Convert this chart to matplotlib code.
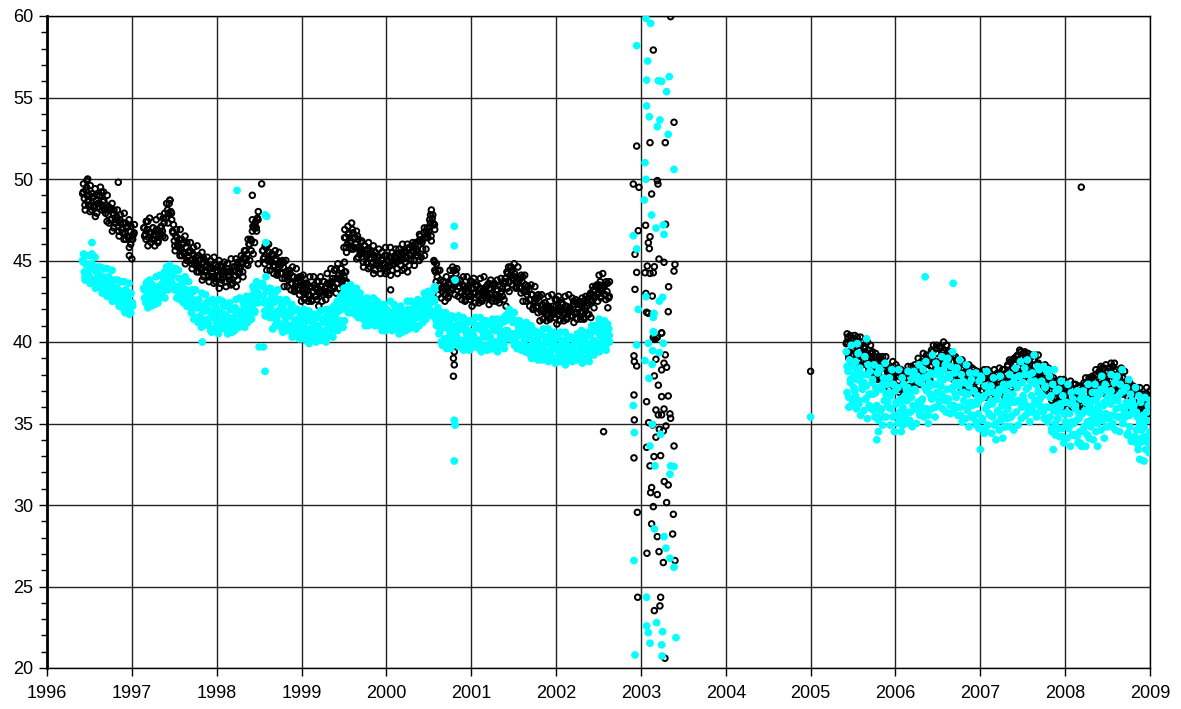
import numpy as np
import matplotlib
matplotlib.use("Agg")
import matplotlib.pyplot as plt
from matplotlib.ticker import MultipleLocator

plt.rcParams['font.family'] = ['Liberation Sans', 'DejaVu Sans']

# ---------------- black series (open circles), regular measurement runs -------------
black_spans = [(1996.42, 1997.02), (1997.14, 1997.46), (1997.48, 1998.48),
               (1998.54, 1999.52), (1999.50, 2000.56), (2000.56, 2002.62),
               (2005.42, 2009.00)]
black_run1 = [49.1, 48.8, 49.3, 48.6, 49.0, 48.4, 48.9, 48.3, 48.7, 48.5, 49.0, 49.2, 48.6, 48.1,
              48.4, 47.8, 48.2, 47.5, 47.9, 47.3, 47.7, 47.1, 47.5, 46.9, 47.3, 46.7, 47.0, 46.4,
              46.8, 46.3, 46.6]
black_run2 = [47.0, 46.6, 46.9, 46.4, 46.7, 46.3, 46.6, 46.5, 46.8, 46.6, 47.0, 46.8, 47.3, 47.6,
              48.1, 48.5, 48.0]
black_run3 = [46.8, 46.2, 46.5, 45.9, 46.3, 45.7, 46.0, 45.4, 45.8, 45.2, 45.6, 45.0, 45.4, 44.8,
              45.2, 44.6, 45.0, 44.4, 44.9, 44.3, 44.7, 44.1, 44.6, 44.0, 44.5, 43.9, 44.4, 44.0,
              44.6, 43.8, 44.3, 43.7, 44.5, 44.0, 44.3, 43.6, 44.4, 44.1, 44.7, 44.2, 44.6, 44.9,
              45.2, 45.6, 45.4, 46.0, 46.3, 46.8, 47.0, 47.4, 47.6]
black_run4 = [45.6, 45.2, 45.8, 45.0, 45.5, 44.9, 45.3, 44.7, 45.1, 44.5, 44.9, 44.2, 44.6, 43.9,
              44.3, 43.8, 44.2, 43.6, 44.0, 43.4, 43.9, 43.3, 43.7, 43.1, 43.6, 43.0, 43.5, 42.9,
              43.4, 43.1, 43.5, 42.8, 43.3, 43.0, 43.4, 42.9, 43.3, 43.1, 43.6, 43.2, 43.7, 43.4,
              43.9, 43.6, 44.1, 43.8, 44.2, 44.0, 44.3]
black_run5 = [45.8, 46.4, 46.0, 46.7, 46.2, 46.9, 46.4, 46.0, 46.5, 45.8, 46.1, 45.5, 45.9, 45.3,
              45.7, 45.1, 45.5, 44.9, 45.3, 44.8, 45.2, 44.7, 45.1, 44.8, 45.3, 44.6, 45.0, 44.7,
              45.2, 44.8, 45.3, 44.9, 45.4, 45.0, 45.5, 45.1, 45.6, 45.2, 45.7, 45.3, 45.9, 45.5,
              46.0, 45.7, 46.2, 46.5, 46.1, 46.7, 46.4, 47.0, 46.8, 47.3, 47.6, 47.2]
black_run6 = [45.0, 44.3, 44.0, 43.5, 43.8, 43.1, 43.4, 42.9, 43.3, 43.6, 43.2, 43.9, 43.5, 44.2,
              43.7, 43.4, 43.0, 43.5, 42.9, 43.3, 43.1, 43.5, 42.8, 43.3, 43.0, 43.4, 42.9, 43.3,
              42.7, 43.2, 43.0, 43.4, 42.8, 43.3, 43.0, 43.5, 42.9, 43.2, 42.8, 43.4, 43.1, 43.6,
              43.9, 44.3, 44.6, 44.1, 44.4, 43.8, 44.0, 43.6, 43.9, 43.4, 43.7, 43.1, 43.5, 42.9,
              43.2, 42.6, 42.9, 42.4, 42.7, 42.2, 42.5, 41.9, 42.3, 41.8, 42.2, 41.7, 42.1, 41.6,
              42.0, 41.8, 42.2, 41.7, 42.1, 41.9, 42.3, 41.8, 42.2, 41.7, 42.1, 41.9, 42.3, 41.8,
              42.4, 42.0, 42.3, 41.9, 42.5, 42.1, 42.6, 42.4, 42.9, 42.6, 43.2, 42.8, 43.5, 43.0,
              43.7, 43.2, 43.4, 42.9, 43.1, 42.7]
black_run7 = [39.9, 40.3, 39.4, 40.1, 39.6, 40.4, 39.3, 39.9, 39.5, 40.0, 39.1, 39.7, 38.9, 39.5,
              38.7, 39.3, 38.6, 39.1, 38.4, 38.9, 38.3, 38.8, 38.1, 38.6, 37.9, 38.4, 37.8, 38.2,
              37.5, 38.1, 37.3, 37.9, 37.2, 38.0, 37.4, 38.1, 37.1, 37.8, 37.3, 38.2, 37.5, 38.0,
              37.6, 38.4, 37.9, 38.6, 38.0, 38.9, 38.3, 39.2, 38.5, 39.4, 38.7, 39.6, 39.0, 39.7,
              38.8, 39.5, 39.0, 39.8, 38.7, 39.4, 38.5, 39.1, 38.3, 38.9, 38.0, 38.6, 37.6, 38.3,
              37.4, 38.2, 37.2, 37.9, 37.5, 38.1, 37.1, 37.8, 37.3, 38.0, 37.0, 37.7, 37.2, 38.0,
              37.1, 37.8, 36.9, 37.6, 37.3, 38.0, 37.2, 37.9, 37.5, 38.3, 37.6, 38.5, 37.8, 38.8,
              38.1, 39.0, 38.3, 39.2, 38.5, 39.4, 38.7, 39.3, 38.4, 39.1, 38.6, 39.2, 38.2, 38.9,
              37.9, 38.6, 37.8, 38.4, 37.5, 38.1, 37.2, 37.9, 37.0, 37.7, 36.8, 37.5, 36.9, 37.4,
              36.6, 37.3, 36.8, 37.2, 36.4, 37.1, 36.6, 37.2, 36.3, 36.9, 36.5, 37.2, 36.2, 37.0,
              36.6, 37.4, 36.8, 37.6, 37.0, 37.8, 37.1, 38.0, 37.4, 38.2, 37.6, 38.4, 37.7, 38.6,
              37.9, 38.4, 37.6, 38.5, 37.8, 38.3, 37.4, 38.0, 37.1, 37.8, 36.9, 37.5, 36.6, 37.2,
              36.4, 37.0, 36.3, 36.9, 36.1, 36.8, 36.0, 36.6, 35.9, 36.8, 36.2, 36.7]

# second and third sets of readings in the same periods (fill the daily band)
black_spans_b = [(1996.43, 1997.03), (1997.15, 1997.47), (1997.49, 1998.49),
                 (1998.55, 1999.53), (1999.51, 2000.57), (2000.57, 2002.63),
                 (2005.43, 2009.00)]
black_run1_b = [49.7, 48.1, 49.0, 48.4, 49.6, 48.1, 48.9, 47.7, 49.0, 48.3, 49.5, 48.1, 48.7, 47.9,
                49.0, 47.3, 48.1, 46.8, 48.1, 47.3, 48.1, 46.5, 47.3, 46.7, 47.9, 46.3, 47.1, 45.8,
                47.1, 46.3, 47.2]
black_run2_b = [46.5, 47.4, 45.9, 47.6, 46.7, 47.0, 45.9, 46.9, 46.2, 47.7, 46.6, 47.6, 46.4, 48.5,
                47.9, 48.7, 47.5]
black_run3_b = [47.2, 45.6, 46.4, 45.8, 46.9, 45.3, 46.1, 44.8, 46.1, 45.3, 46.1, 44.5, 45.3, 44.7,
                45.9, 44.3, 45.1, 43.8, 45.1, 44.4, 45.2, 43.7, 44.5, 44.0, 45.2, 43.7, 44.6, 43.3,
                44.7, 44.0, 44.9, 43.4, 44.3, 43.8, 45.1, 43.6, 44.6, 43.4, 44.9, 44.3, 45.3, 44.0,
                45.1, 44.8, 46.3, 45.0, 46.2, 45.4, 47.2, 46.8, 48.0]
black_run4_b = [45.1, 45.9, 44.4, 46.0, 45.0, 45.4, 44.2, 45.0, 44.2, 45.5, 44.2, 45.0, 43.4, 45.0,
                44.0, 44.4, 43.2, 44.0, 43.2, 44.5, 43.2, 44.0, 42.5, 44.1, 43.2, 43.6, 42.5, 43.4,
                42.6, 44.0, 42.8, 43.7, 42.2, 44.0, 43.1, 43.7, 42.6, 43.6, 43.0, 44.5, 43.4, 44.4,
                43.0, 44.8, 43.9, 44.5, 43.4, 44.3, 43.7]
black_run5_b = [46.9, 45.5, 46.6, 46.1, 47.3, 45.7, 46.4, 45.1, 46.3, 45.4, 46.2, 44.6, 45.4, 44.9,
                46.1, 44.6, 45.4, 44.2, 45.5, 44.8, 45.7, 44.2, 45.0, 44.5, 45.8, 44.3, 45.2, 44.1,
                45.5, 44.8, 45.7, 44.2, 45.2, 44.7, 46.0, 44.5, 45.5, 44.3, 45.8, 45.1, 46.1, 44.7,
                45.6, 45.3, 46.6, 45.2, 46.3, 45.3, 46.8, 46.4, 47.5, 46.2, 47.3, 46.9]
black_run6_b = [44.4, 44.8, 42.9, 44.4, 43.3, 43.7, 42.5, 43.4, 42.8, 44.4, 43.3, 44.4, 42.9, 44.5,
                43.4, 43.8, 42.6, 43.4, 42.6, 44.0, 42.8, 43.7, 42.2, 43.9, 43.0, 43.5, 42.4, 43.3,
                42.6, 44.0, 42.9, 43.5, 42.3, 43.8, 42.7, 43.6, 42.5, 43.2, 42.4, 43.9, 42.8, 43.7,
                42.2, 44.2, 43.7, 44.6, 43.5, 44.2, 43.4, 44.6, 43.3, 44.1, 42.5, 44.1, 43.1, 43.4,
                42.2, 42.9, 42.1, 43.4, 42.1, 42.9, 41.3, 42.9, 42.0, 42.4, 41.3, 42.2, 41.5, 42.9,
                41.7, 42.6, 41.1, 42.8, 41.9, 42.4, 41.3, 42.2, 41.5, 42.9, 41.6, 42.7, 41.2, 42.6,
                41.8, 42.5, 41.4, 42.3, 41.4, 42.8, 41.7, 42.8, 41.5, 43.4, 42.7, 43.4, 42.5, 43.5,
                42.8, 44.2, 42.9, 43.7, 42.1, 43.7]
black_run7_b = [40.5, 39.0, 39.9, 38.8, 40.2, 39.0, 40.3, 38.6, 39.8, 39.3, 39.6, 38.7, 40.0, 38.4,
                39.1, 39.4, 37.9, 38.8, 37.7, 39.1, 37.8, 39.1, 37.4, 38.6, 38.1, 38.4, 37.5, 38.8,
                37.2, 37.9, 38.4, 36.9, 37.8, 36.7, 38.1, 37.2, 38.5, 36.8, 38.0, 37.5, 38.6, 37.7,
                39.0, 37.4, 38.1, 39.3, 37.8, 38.7, 37.6, 39.0, 38.5, 39.8, 38.1, 39.3, 38.8, 39.6,
                38.7, 40.0, 38.4, 39.1, 39.4, 37.9, 38.8, 37.7, 39.1, 37.6, 38.9, 37.2, 38.4, 37.9,
                38.2, 37.3, 38.6, 37.0, 37.7, 38.3, 36.8, 37.7, 36.6, 38.0, 37.0, 38.3, 36.6, 37.8,
                37.3, 37.9, 37.0, 38.3, 36.7, 37.4, 38.4, 36.9, 37.8, 36.7, 38.1, 37.6, 38.9, 37.2,
                38.4, 37.9, 39.1, 38.2, 39.5, 37.9, 38.6, 39.4, 37.9, 38.8, 37.7, 39.1, 37.9, 39.2,
                37.5, 38.7, 38.2, 38.2, 37.3, 38.6, 37.0, 37.7, 37.9, 36.4, 37.3, 36.2, 37.6, 36.4,
                37.7, 36.0, 37.2, 36.7, 37.2, 36.3, 37.6, 36.0, 36.7, 37.4, 35.9, 36.8, 35.7, 37.1,
                36.5, 37.8, 36.1, 37.3, 36.8, 37.9, 37.0, 38.3, 36.7, 37.4, 38.5, 37.0, 37.9, 36.8,
                38.2, 37.4, 38.7, 37.0, 38.2, 37.7, 38.0, 37.1, 38.4, 36.8, 37.5, 37.6, 36.1, 37.0,
                35.9, 37.3, 35.9, 37.2, 35.5, 36.7, 36.2, 36.8, 35.9, 37.2, 35.6, 36.3]

black_spans_c = [(1996.427, 1997.027), (1997.147, 1997.467), (1997.487, 1998.487),
                 (1998.547, 1999.527), (1999.507, 2000.567), (2000.567, 2002.627),
                 (2005.427, 2009.00)]
black_run1_c = [49.2, 48.4, 49.5, 48.7, 48.0, 49.1, 48.3, 49.4, 47.9, 48.5, 49.0, 48.4, 49.2, 48.2,
                47.4, 48.3, 47.5, 48.5, 47.0, 47.5, 47.6, 46.8, 47.8, 47.0, 46.3, 47.3, 46.5, 47.5,
                46.0, 46.5, 46.7]
black_run2_c = [47.0, 46.3, 47.4, 46.7, 46.1, 47.0, 46.3, 47.5, 46.1, 46.8, 47.1, 46.5, 47.9, 47.6,
                47.3, 48.7, 47.9]
black_run3_c = [46.7, 45.9, 46.9, 46.1, 45.3, 46.3, 45.5, 46.5, 45.0, 45.5, 45.6, 44.8, 45.8, 45.0,
                44.3, 45.3, 44.5, 45.5, 44.0, 44.6, 44.7, 44.0, 45.0, 44.3, 43.6, 44.7, 44.0, 45.0,
                43.6, 44.2, 44.4, 43.7, 44.8, 44.1, 43.5, 44.6, 44.0, 45.1, 43.8, 44.5, 44.8, 44.3,
                45.6, 45.1, 44.7, 46.0, 45.6, 47.1, 46.1, 47.0, 47.5]
black_run4_c = [45.6, 44.8, 45.9, 45.1, 44.4, 45.4, 44.6, 45.6, 44.1, 44.6, 44.7, 43.9, 44.9, 44.1,
                43.4, 44.4, 43.6, 44.6, 43.1, 43.6, 43.7, 42.9, 44.0, 43.2, 42.6, 43.6, 42.9, 44.0,
                42.5, 43.1, 43.3, 42.6, 43.7, 43.1, 42.5, 43.7, 43.0, 44.2, 42.9, 43.6, 43.9, 43.3,
                44.5, 43.9, 43.3, 44.5, 43.8, 44.9, 43.6]
black_run5_c = [46.4, 45.8, 47.1, 46.4, 45.7, 46.7, 45.8, 46.8, 45.2, 45.6, 45.7, 44.9, 45.9, 45.2,
                44.5, 45.6, 44.8, 45.9, 44.4, 45.0, 45.2, 44.5, 45.5, 44.8, 44.2, 45.3, 44.6, 45.8,
                44.4, 45.0, 45.2, 44.5, 45.7, 45.0, 44.4, 45.5, 44.9, 46.0, 44.7, 45.3, 45.6, 45.0,
                46.1, 45.5, 45.0, 46.2, 45.7, 47.0, 45.7, 46.6, 47.0, 46.5, 47.8, 47.2]
black_run6_c = [44.9, 43.7, 44.4, 43.5, 42.7, 43.7, 42.9, 44.0, 42.7, 43.5, 43.8, 43.3, 44.4, 43.6,
                42.8, 43.8, 43.0, 44.0, 42.5, 43.1, 43.3, 42.6, 43.7, 43.0, 42.4, 43.5, 42.8, 43.9,
                42.5, 43.1, 43.2, 42.7, 43.6, 42.9, 42.5, 43.4, 42.9, 43.8, 42.6, 43.0, 43.3, 42.6,
                43.7, 43.3, 43.1, 44.6, 43.9, 44.8, 43.3, 43.7, 43.8, 43.0, 44.0, 43.2, 42.5, 43.4,
                42.6, 43.5, 42.0, 42.5, 42.6, 41.8, 42.8, 42.0, 41.4, 42.4, 41.7, 42.8, 41.4, 42.0,
                42.2, 41.5, 42.6, 41.9, 41.3, 42.4, 41.7, 42.8, 41.4, 42.0, 42.1, 41.6, 42.5, 41.8,
                41.4, 42.3, 41.8, 42.7, 41.5, 41.9, 42.2, 41.7, 43.0, 42.5, 42.1, 43.4, 42.9, 44.1,
                42.7, 43.3, 43.4, 42.6, 43.6, 42.8]
black_run7_c = [40.0, 39.2, 40.4, 39.5, 38.9, 40.0, 39.3, 38.8, 40.3, 39.1, 38.3, 39.4, 39.0, 38.6,
                39.8, 38.9, 38.1, 39.3, 38.4, 37.8, 38.8, 38.1, 37.6, 39.1, 37.9, 37.1, 38.2, 37.8,
                37.4, 38.6, 37.9, 37.1, 38.3, 37.4, 36.8, 38.2, 37.5, 37.0, 38.5, 37.3, 37.3, 38.4,
                38.0, 37.6, 38.8, 38.8, 38.0, 39.2, 38.3, 37.7, 39.5, 38.8, 38.3, 39.8, 38.6, 38.3,
                39.4, 39.0, 38.6, 39.8, 38.9, 38.1, 39.3, 38.4, 37.8, 38.6, 37.9, 37.4, 38.9, 37.7,
                36.9, 38.0, 37.6, 37.2, 38.4, 37.8, 37.0, 38.2, 37.3, 36.7, 38.0, 37.3, 36.8, 38.3,
                37.1, 36.6, 37.7, 37.3, 36.9, 38.1, 37.9, 37.1, 38.3, 37.4, 36.8, 38.6, 37.9, 37.4,
                38.9, 37.7, 37.8, 38.9, 38.5, 38.1, 39.3, 38.9, 38.1, 39.3, 38.4, 37.8, 38.9, 38.2,
                37.7, 39.2, 38.0, 36.9, 38.0, 37.6, 37.2, 38.4, 37.4, 36.6, 37.8, 36.9, 36.3, 37.4,
                36.7, 36.2, 37.7, 36.5, 35.9, 37.0, 36.6, 36.2, 37.4, 36.9, 36.1, 37.3, 36.4, 35.8,
                37.5, 36.8, 36.3, 37.8, 36.6, 36.6, 37.7, 37.3, 36.9, 38.1, 38.0, 37.2, 38.4, 37.5,
                36.9, 38.4, 37.7, 37.2, 38.7, 37.5, 36.7, 37.8, 37.4, 37.0, 38.2, 37.1, 36.3, 37.5,
                36.6, 36.0, 36.9, 36.2, 35.7, 37.2, 36.0, 35.5, 36.6, 36.2, 35.8, 37.0]

black_runs = [black_run1, black_run2, black_run3, black_run4, black_run5, black_run6, black_run7]
black_runs_b = [black_run1_b, black_run2_b, black_run3_b, black_run4_b, black_run5_b,
                black_run6_b, black_run7_b]
black_runs_c = [black_run1_c, black_run2_c, black_run3_c, black_run4_c, black_run5_c,
                black_run6_c, black_run7_c]

# isolated black readings (year, value), incl. the scattered 2003 period
black_extra_year = [1996.47, 1996.48, 1996.84, 1996.97, 1997.00, 1998.42, 1998.53, 1998.42,
                    1998.49, 2000.05, 2000.53, 2000.52, 2000.78, 2000.79, 2000.80, 2000.79,
                    2000.80, 2002.56, 2005.00, 2008.19,
                    2003.350, 2003.146, 2003.390, 2002.950, 2003.107, 2003.287, 2002.910,
                    2002.977, 2003.193, 2003.201, 2003.126, 2003.291, 2003.055, 2002.969,
                    2003.107, 2003.087, 2003.099, 2002.930, 2003.213, 2003.272, 2003.401,
                    2003.390, 2003.075, 2003.158, 2002.950, 2003.048, 2003.107, 2003.146,
                    2003.326, 2002.930, 2003.059, 2003.134, 2003.322, 2003.067, 2003.087,
                    2003.244, 2003.146, 2003.185,
                    2003.244, 2003.165, 2003.193, 2002.918, 2002.922, 2002.950, 2003.177,
                    2003.272, 2003.287, 2003.303, 2003.244, 2003.158, 2003.205, 2002.918,
                    2003.067, 2003.244, 2003.322, 2003.177, 2003.272, 2003.205, 2003.244,
                    2003.342, 2003.350, 2002.922, 2003.091, 2003.138, 2003.217, 2003.295,
                    2003.264, 2003.177, 2003.390, 2003.067, 2003.154, 2003.232, 2002.918,
                    2003.107, 2003.275, 2003.322, 2003.126, 2003.114, 2003.193, 2003.303,
                    2003.146, 2002.958, 2003.382, 2003.126, 2003.374, 2003.193, 2003.071,
                    2003.213, 2003.264, 2003.401, 2002.962, 2003.232, 2003.224, 2003.158,
                    2003.283]
black_extra_value = [49.9, 50.0, 49.8, 45.3, 45.1, 49.0, 49.7, 47.5,
                     44.8, 43.2, 48.1, 47.8, 44.6, 39.0, 38.6, 37.9,
                     39.4, 34.5, 38.2, 49.5,
                     59.96, 57.91, 53.48, 52.02, 52.23, 52.23, 49.69,
                     49.49, 49.90, 49.69, 49.08, 47.22, 47.16, 46.83,
                     46.46, 46.09, 45.73, 45.38, 45.09, 44.89, 44.76,
                     44.35, 44.66, 44.62, 44.27, 44.25, 44.21, 44.25,
                     43.39, 43.23, 42.98, 42.82, 41.86, 41.82, 41.76,
                     40.57, 40.28, 40.28,
                     40.54, 40.17, 40.29, 39.15, 38.80, 38.53, 38.94,
                     38.70, 39.21, 38.45, 38.29, 37.92, 37.35, 36.75,
                     36.34, 36.65, 36.69, 35.83, 35.89, 35.53, 35.53,
                     35.59, 35.32, 35.22, 35.05, 34.91, 34.65, 34.85,
                     34.54, 34.16, 33.62, 33.54, 32.97, 33.03, 32.89,
                     32.40, 31.44, 31.23, 31.07, 30.76, 30.64, 30.15,
                     29.90, 29.55, 29.43, 28.84, 28.22, 28.06, 27.04,
                     27.14, 26.47, 26.59, 24.34, 24.34, 23.81, 23.52,
                     20.60]

# ---------------- cyan series (filled dots) -------------
cyan_spans = [(1996.42, 1997.00), (1997.14, 1997.46), (1997.48, 1998.48),
              (1998.54, 1999.52), (1999.50, 2000.56), (2000.56, 2002.62),
              (2005.42, 2009.00)]
cyan_run1 = [45.0, 44.3, 44.8, 44.1, 44.6, 43.9, 44.5, 43.8, 44.3, 43.6, 44.1, 43.5, 44.0, 43.3,
             43.8, 43.1, 43.6, 42.9, 43.4, 42.7, 43.2, 42.5, 43.0, 42.3, 42.8, 41.8, 42.6, 42.1,
             42.9, 42.4]
cyan_run2 = [43.3, 42.6, 43.1, 42.8, 43.4, 42.5, 43.0, 42.7, 43.2, 42.9, 43.5, 43.0, 43.8, 43.3,
             44.2, 43.7, 44.5]
cyan_run3 = [44.2, 43.4, 44.5, 43.1, 43.9, 42.8, 43.6, 42.5, 43.2, 42.2, 42.9, 41.8, 42.6, 41.5,
             42.3, 41.2, 42.1, 40.9, 42.0, 41.3, 42.4, 41.0, 41.9, 40.6, 41.7, 42.3, 41.1, 40.5,
             41.8, 41.3, 42.2, 40.8, 41.6, 41.0, 42.0, 40.6, 41.5, 42.1, 41.2, 40.9, 41.8, 41.4,
             42.3, 41.6, 42.5, 41.9, 42.8, 42.2, 43.1, 42.6, 43.4]
cyan_run4 = [43.6, 42.4, 44.0, 41.8, 43.1, 42.0, 40.8, 42.7, 41.5, 43.2, 41.0, 42.3, 40.6, 41.9,
             42.6, 40.9, 41.6, 42.2, 40.4, 41.3, 42.0, 40.7, 41.5, 40.2, 41.8, 40.9, 41.4, 40.0,
             41.7, 40.6, 41.2, 40.3, 41.5, 40.8, 41.9, 40.5, 41.2, 40.7, 41.6, 41.0, 42.0, 41.3,
             42.2, 41.6, 42.5, 41.9, 42.8, 42.1, 43.0, 42.4]
cyan_run5 = [43.3, 42.5, 43.1, 42.7, 43.5, 42.3, 42.9, 42.0, 42.6, 41.9, 42.4, 41.6, 42.2, 41.4,
             42.0, 41.3, 41.9, 41.6, 42.2, 41.2, 41.8, 41.0, 41.7, 41.4, 42.0, 41.1, 41.6, 40.9,
             41.8, 41.3, 41.9, 41.0, 41.5, 41.2, 41.8, 40.9, 41.6, 41.3, 42.0, 41.1, 41.7, 41.4,
             42.1, 41.5, 42.3, 41.8, 42.5, 42.0, 42.7, 42.2, 42.9, 42.4, 43.1, 42.6]
cyan_run6 = [42.6, 41.9, 41.2, 40.5, 41.6, 39.8, 40.9, 41.8, 40.2, 41.3, 39.6, 40.7, 41.5, 40.0,
             41.1, 39.7, 40.8, 41.4, 39.9, 40.6, 41.2, 39.5, 40.4, 41.3, 39.8, 40.9, 40.1, 41.0,
             39.4, 40.6, 41.1, 39.7, 40.3, 41.2, 39.6, 40.8, 40.0, 41.3, 39.8, 40.7, 41.4, 40.2,
             41.6, 40.5, 41.8, 40.3, 41.5, 40.0, 41.2, 39.6, 40.9, 39.8, 40.6, 41.1, 39.4, 40.3,
             40.8, 39.2, 40.1, 40.7, 39.0, 40.2, 39.5, 40.6, 38.9, 39.8, 40.3, 39.1, 40.0, 39.4,
             40.4, 38.8, 39.7, 40.2, 39.0, 39.5, 40.1, 38.7, 39.9, 39.3, 40.3, 38.9, 39.6, 40.0,
             39.2, 40.4, 39.4, 40.7, 39.6, 40.2, 39.5, 40.6, 39.8, 41.0, 40.1, 40.7, 39.7, 41.1,
             40.3, 40.9, 39.9, 40.6, 40.2, 40.8]
cyan_run7 = [39.4, 36.9, 38.2, 36.0, 38.9, 37.5, 39.8, 36.5, 38.5, 37.2,
             37.0, 38.8, 35.9, 37.7, 39.3, 36.4, 38.4, 35.5, 38.0, 37.3,
             38.0, 35.8, 39.1, 36.5, 37.3, 35.3, 38.6, 36.8, 38.2, 36.0,
             35.9, 37.5, 36.8, 38.6, 35.4, 37.2, 36.1, 38.1, 35.2, 38.4,
             38.3, 35.8, 37.1, 34.9, 37.8, 36.4, 38.7, 35.4, 37.4, 36.1,
             36.0, 37.8, 34.9, 36.7, 38.3, 35.4, 37.4, 34.5, 37.0, 36.3,
             37.2, 35.0, 38.3, 35.7, 36.5, 34.5, 37.8, 36.0, 37.4, 35.2,
             35.5, 37.1, 36.4, 38.2, 35.0, 36.8, 35.7, 37.7, 34.8, 38.0,
             38.2, 35.9, 37.0, 35.0, 37.9, 36.3, 38.6, 35.5, 37.5, 36.0,
             36.5, 38.3, 35.4, 37.2, 38.8, 35.9, 37.9, 35.0, 37.5, 36.8,
             38.1, 35.9, 39.2, 36.6, 37.4, 35.4, 38.7, 36.9, 38.3, 36.1,
             36.4, 38.0, 37.3, 39.1, 35.9, 37.7, 36.6, 38.6, 35.7, 38.9,
             39.0, 36.5, 37.8, 35.6, 38.5, 37.1, 39.4, 36.1, 38.1, 36.8,
             36.6, 38.4, 35.5, 37.3, 38.9, 36.0, 38.0, 35.1, 37.6, 36.9,
             37.5, 35.3, 38.6, 36.0, 36.8, 34.8, 38.1, 36.3, 37.7, 35.5,
             35.4, 37.0, 36.3, 38.1, 34.9, 36.7, 35.6, 37.6, 34.7, 37.9,
             37.8, 35.3, 36.6, 34.4, 37.3, 35.9, 38.2, 34.9, 36.9, 35.6,
             35.5, 37.3, 34.4, 36.2, 37.8, 34.9, 36.9, 34.0, 36.5, 35.8,
             36.8, 34.6, 37.9, 35.3, 36.1, 34.1, 37.4, 35.6, 37.0, 34.8,
             35.3, 36.9, 36.2, 38.0, 34.8, 36.6, 35.5, 37.5, 34.6, 37.8,
             38.4, 35.7, 37.2, 34.9, 37.9, 36.3, 38.8, 35.3, 37.5, 36.2,
             36.4, 38.4, 35.5, 37.1, 38.9, 35.8, 38.0, 35.1, 37.6, 36.7,
             38.1, 35.7, 39.2, 36.4, 37.4, 35.4, 38.5, 36.9, 38.3, 36.1,
             35.8, 37.6, 36.7, 38.5, 35.3, 37.3, 36.0, 38.2, 35.1, 38.3,
             37.9, 35.4, 36.7, 34.5, 37.4, 36.0, 38.3, 35.0, 37.0, 35.7,
             35.3, 37.1, 34.2, 36.0, 37.6, 34.7, 36.7, 33.8, 36.3, 35.6,
             36.3, 34.1, 37.4, 34.8, 35.6, 33.6, 36.9, 35.1, 36.5, 34.3,
             34.3, 35.9, 35.2, 37.0, 33.8, 35.6, 34.5, 36.5, 33.6, 36.8,
             37.0, 34.5, 35.8, 33.6, 36.5, 35.1, 37.4, 34.1, 36.1, 34.8,
             35.1, 36.9, 34.0, 35.8, 37.4, 34.5, 36.5, 33.6, 36.1, 35.4,
             36.8, 34.6, 37.9, 35.3, 36.1, 34.1, 37.4, 35.6, 37.0, 34.8,
             35.3, 36.9, 36.2, 38.0, 34.8, 36.6, 35.5, 37.5, 34.6, 37.8,
             37.9, 35.4, 36.7, 34.5, 37.4, 36.0, 38.3, 35.0, 37.0, 35.7,
             35.4, 37.2, 34.3, 36.1, 37.7, 34.8, 36.8, 33.9, 36.4, 35.7,
             36.1, 33.9, 37.2, 34.6, 35.4, 33.4, 36.7, 34.9, 36.3, 34.1,
             33.9, 35.5, 34.8, 36.6, 33.4, 35.2, 34.1, 36.1, 33.2, 36.4]

cyan_spans_b = [(1996.43, 1997.01), (1997.15, 1997.47), (1997.49, 1998.49),
                (1998.55, 1999.53), (1999.51, 2000.57), (2000.57, 2002.63),
                (2005.43, 2009.00)]
cyan_run1_b = [45.4, 43.8, 44.7, 44.1, 45.3, 43.7, 44.5, 43.3, 44.6, 43.8, 44.6, 43.0, 43.9, 43.3,
               44.5, 42.9, 43.7, 42.5, 43.8, 43.0, 43.8, 42.2, 43.1, 42.5, 43.7, 42.1, 42.9, 41.7,
               43.0, 42.2]
cyan_run2_b = [42.7, 43.6, 42.1, 43.8, 42.9, 43.4, 42.3, 43.2, 42.6, 44.1, 43.0, 44.0, 42.7, 44.6,
               43.9, 44.6, 43.6]
cyan_run3_b = [43.5, 44.5, 42.7, 44.4, 43.3, 43.8, 42.4, 43.2, 42.3, 43.7, 42.2, 43.2, 41.4, 43.2,
               42.1, 42.6, 41.2, 42.2, 41.3, 42.9, 41.4, 42.5, 40.7, 42.6, 41.5, 42.1, 40.8, 41.8,
               40.9, 42.5, 41.1, 42.2, 40.5, 42.4, 41.4, 42.0, 40.7, 41.8, 41.0, 42.7, 41.3, 42.5,
               40.9, 42.8, 42.0, 42.6, 41.4, 42.6, 41.9, 43.7, 42.4]
cyan_run4_b = [43.4, 41.6, 42.5, 42.0, 43.3, 41.5, 42.4, 41.0, 42.6, 41.7, 42.6, 40.8, 41.7, 41.2,
               42.5, 40.7, 41.7, 40.3, 41.9, 41.0, 42.0, 40.2, 41.2, 40.6, 42.0, 40.3, 41.3, 39.9,
               41.5, 40.7, 41.7, 40.0, 41.0, 40.5, 41.9, 40.2, 41.2, 40.0, 41.6, 40.9, 41.9, 40.3,
               41.4, 41.0, 42.5, 40.9, 42.0, 40.9, 42.6, 42.0]
cyan_run5_b = [42.5, 43.3, 41.8, 43.4, 42.5, 42.9, 41.7, 42.5, 41.7, 43.0, 41.7, 42.6, 41.0, 42.7,
               41.7, 42.2, 41.1, 41.9, 41.2, 42.5, 41.3, 42.2, 40.7, 42.3, 41.4, 41.9, 40.8, 41.7,
               40.9, 42.3, 41.1, 42.0, 40.5, 42.2, 41.3, 41.8, 40.7, 41.7, 41.0, 42.5, 41.3, 42.2,
               40.8, 42.6, 41.7, 42.2, 41.2, 42.2, 41.6, 43.1, 42.0, 43.0, 41.6, 43.4]
cyan_run6_b = [43.2, 41.0, 41.5, 40.6, 41.8, 40.0, 40.9, 39.6, 41.2, 40.5, 41.6, 39.9, 40.9, 40.3,
               41.6, 39.8, 40.8, 39.5, 41.1, 40.3, 41.3, 39.6, 40.6, 40.1, 41.5, 39.8, 40.8, 39.5,
               41.1, 40.3, 41.3, 39.5, 40.5, 40.0, 41.4, 39.7, 40.7, 39.4, 41.0, 40.2, 41.2, 39.6,
               40.7, 40.4, 42.0, 40.3, 41.2, 39.8, 41.3, 40.4, 41.3, 39.5, 40.4, 39.8, 41.2, 39.4,
               40.4, 39.0, 40.6, 39.7, 40.6, 38.9, 39.9, 39.4, 40.8, 39.1, 40.1, 38.8, 40.4, 39.6,
               40.6, 38.7, 39.7, 39.2, 40.6, 38.9, 39.9, 38.6, 40.2, 39.4, 40.3, 38.8, 39.6, 39.3,
               40.5, 39.0, 39.8, 38.7, 40.1, 39.5, 40.4, 38.8, 39.9, 39.5, 41.0, 39.5, 40.6, 39.4,
               41.1, 40.3, 41.3, 39.5, 40.5, 40.0]
cyan_run7_b = [38.5, 36.6, 37.7, 36.2, 38.0, 36.7, 38.2, 36.2, 37.6, 37.1, 37.5, 36.5, 38.0, 36.1,
               36.8, 37.7, 35.8, 36.9, 35.4, 37.2, 35.9, 37.4, 35.4, 36.8, 36.3, 36.9, 35.9, 37.4,
               35.5, 36.2, 37.2, 35.3, 36.4, 34.9, 36.7, 35.7, 37.2, 35.2, 36.6, 36.1, 37.1, 36.1,
               37.6, 35.7, 36.4, 37.8, 35.9, 37.0, 35.5, 37.3, 36.5, 38.0, 36.0, 37.4, 36.9, 37.8,
               36.8, 38.3, 36.4, 37.1, 38.0, 36.1, 37.2, 35.7, 37.5, 36.0, 37.5, 35.5, 36.9, 36.4,
               36.8, 35.8, 37.3, 35.4, 36.1, 37.0, 35.1, 36.2, 34.7, 36.5, 35.2, 36.7, 34.7, 36.1,
               35.6, 36.4, 35.4, 36.9, 35.0, 35.7, 37.1, 35.2, 36.3, 34.8, 36.6, 35.9, 37.4, 35.4,
               36.8, 36.3, 37.4, 36.4, 37.9, 36.0, 36.7, 38.0, 36.1, 37.2, 35.7, 37.5, 36.1, 37.6,
               35.6, 37.0, 36.5, 36.7, 35.7, 37.2, 35.3, 36.0, 36.6, 34.7, 35.8, 34.3, 36.1, 34.7,
               36.2, 34.2, 35.6, 35.1, 35.7, 34.7, 36.2, 34.3, 35.0, 36.1, 34.2, 35.3, 33.8, 35.6,
               34.8, 36.3, 34.3, 35.7, 35.2, 36.4, 35.4, 36.9, 35.0, 35.7, 37.1, 35.2, 36.3, 34.8,
               36.6, 35.5, 37.0, 35.0, 36.4, 35.9, 36.4, 35.4, 36.9, 35.0, 35.7, 36.3, 34.4, 35.5,
               34.0, 35.8, 34.2, 35.7, 33.7, 35.1, 34.6, 35.2, 34.2, 35.7, 33.8, 34.5]

cyan_spans_c = [(1996.427, 1997.007), (1997.147, 1997.467), (1997.487, 1998.487),
                (1998.547, 1999.527), (1999.507, 2000.567), (2000.567, 2002.627)]
cyan_run1_c = [44.9, 44.0, 45.3, 44.4, 43.6, 44.8, 43.8, 45.2, 43.4, 44.0, 44.1, 43.2, 44.5, 43.6,
               42.8, 44.0, 43.0, 44.4, 42.6, 43.2, 43.3, 42.4, 43.7, 42.8, 42.0, 43.2, 42.2, 43.6,
               41.8, 42.4]
cyan_run2_c = [43.2, 42.4, 43.7, 42.9, 42.2, 43.5, 42.6, 44.0, 42.4, 43.2, 43.5, 42.8, 44.3, 43.7,
               43.2, 44.7, 43.9]
cyan_run3_c = [44.1, 43.2, 44.4, 43.4, 42.6, 43.8, 42.8, 44.0, 42.2, 42.7, 42.8, 41.9, 43.1, 42.2,
               41.4, 42.6, 41.6, 43.0, 41.2, 41.9, 42.0, 41.2, 42.4, 41.6, 40.8, 42.1, 41.2, 42.6,
               40.8, 41.5, 41.7, 40.9, 42.2, 41.4, 40.7, 42.0, 41.1, 42.6, 40.9, 41.7, 41.9, 41.2,
               42.6, 41.8, 41.2, 42.6, 41.8, 43.4, 41.8, 42.7, 43.0]
cyan_run4_c = [42.8, 41.9, 43.1, 42.3, 41.5, 42.7, 41.7, 43.0, 41.3, 41.9, 42.0, 41.1, 42.3, 41.5,
               40.7, 41.9, 41.0, 42.3, 40.6, 41.2, 41.4, 40.5, 41.8, 40.9, 40.2, 41.5, 40.6, 41.9,
               40.2, 40.9, 41.1, 40.3, 41.6, 40.8, 40.1, 41.4, 40.5, 42.0, 40.3, 41.1, 41.3, 40.6,
               42.0, 41.3, 40.7, 42.1, 41.3, 42.9, 41.3, 42.2]
cyan_run5_c = [43.0, 42.1, 43.4, 42.5, 41.8, 43.0, 42.0, 43.3, 41.5, 42.1, 42.2, 41.4, 42.6, 41.8,
               41.0, 42.3, 41.4, 42.7, 41.0, 41.6, 41.8, 41.0, 42.3, 41.4, 40.7, 42.0, 41.1, 42.5,
               40.7, 41.4, 41.6, 40.8, 42.1, 41.3, 40.6, 41.9, 41.0, 42.5, 40.8, 41.6, 41.8, 41.0,
               42.4, 41.6, 41.0, 42.3, 41.5, 43.0, 41.4, 42.2, 42.5, 41.8, 43.2, 42.5]
cyan_run6_c = [42.6, 41.3, 42.1, 40.9, 40.0, 41.2, 40.2, 41.6, 39.9, 40.7, 41.0, 40.2, 41.5, 40.6,
               39.8, 41.0, 40.1, 41.5, 39.8, 40.5, 40.7, 39.9, 41.2, 40.4, 39.7, 41.0, 40.1, 41.5,
               39.8, 40.5, 40.7, 39.8, 41.1, 40.3, 39.6, 40.9, 40.0, 41.4, 39.7, 40.4, 40.6, 39.9,
               41.3, 40.7, 40.2, 41.5, 40.5, 41.8, 40.0, 40.6, 40.7, 39.8, 41.0, 40.1, 39.4, 40.6,
               39.7, 41.0, 39.3, 39.9, 40.0, 39.2, 40.5, 39.7, 39.0, 40.3, 39.4, 40.8, 39.1, 39.8,
               40.0, 39.0, 40.3, 39.5, 38.8, 40.1, 39.2, 40.6, 38.9, 39.6, 39.7, 39.1, 40.2, 39.4,
               38.9, 40.0, 39.3, 40.5, 39.0, 39.5, 39.8, 39.1, 40.5, 39.8, 39.2, 40.7, 39.9, 41.4,
               39.8, 40.5, 40.7, 39.8, 41.1, 40.4]

cyan_runs = [cyan_run1, cyan_run2, cyan_run3, cyan_run4, cyan_run5, cyan_run6, cyan_run7]
cyan_runs_b = [cyan_run1_b, cyan_run2_b, cyan_run3_b, cyan_run4_b, cyan_run5_b, cyan_run6_b,
               cyan_run7_b]
cyan_runs_c = [cyan_run1_c, cyan_run2_c, cyan_run3_c, cyan_run4_c, cyan_run5_c, cyan_run6_c]

cyan_extra_year = [1996.53, 1996.53, 1997.83, 1998.24, 1998.57, 1998.59, 1998.58, 1998.57,
                   1998.55, 1998.50, 2000.80, 2000.80, 2000.81, 2000.80, 2000.81, 2000.80,
                   2005.00, 2006.35, 2006.68, 2005.66, 2005.55, 2005.80, 2005.78, 2007.00,
                   2007.86, 2008.88, 2008.93,
                   2003.059, 2003.114, 2002.950, 2003.079, 2003.067, 2003.205, 2003.244,
                   2003.334, 2003.303, 2003.067, 2003.099, 2003.224, 2003.193, 2003.322,
                   2003.048, 2003.390, 2003.059, 2003.040, 2003.126, 2003.264, 2003.177,
                   2003.272, 2002.910, 2002.950, 2003.059, 2003.256, 2003.217, 2002.969,
                   2003.154, 2003.146, 2003.146,
                   2003.154, 2002.950, 2003.087, 2003.264, 2003.138, 2003.217, 2003.048,
                   2003.134, 2003.095, 2002.910, 2003.134, 2002.922, 2003.232, 2003.107,
                   2003.165, 2003.350, 2003.390, 2003.342, 2003.158, 2003.272, 2003.295,
                   2002.918, 2003.342, 2003.390, 2003.067, 2003.067, 2003.185, 2003.087,
                   2003.256, 2003.413, 2003.107, 2003.244, 2002.930, 2003.248]
cyan_extra_value = [46.1, 45.4, 40.0, 49.3, 47.8, 47.7, 46.1, 38.2,
                    39.7, 39.7, 47.1, 45.9, 43.8, 35.2, 34.9, 32.7,
                    35.4, 44.0, 43.6, 40.2, 39.9, 34.5, 34.0, 33.4,
                    33.4, 32.8, 32.7,
                    59.86, 59.55, 58.18, 57.24, 56.07, 56.03, 55.99,
                    56.28, 55.36, 54.48, 53.82, 53.62, 53.21, 52.74,
                    51.00, 50.59, 49.98, 48.71, 47.79, 47.18, 46.99,
                    46.60, 46.52, 45.71, 42.78, 42.74, 42.51, 42.00,
                    41.76, 41.51, 40.63,
                    40.58, 39.82, 39.92, 39.92, 39.47, 39.35, 38.86,
                    38.63, 37.77, 36.10, 34.95, 34.44, 34.34, 33.62,
                    32.40, 32.40, 32.36, 31.89, 28.53, 28.06, 27.35,
                    26.59, 26.73, 26.18, 24.34, 22.58, 22.78, 22.17,
                    22.23, 21.86, 21.52, 21.42, 20.80, 20.74]

x_ticks = list(range(1996, 2010))
y_ticks = list(range(20, 61, 5))


def collect(span_sets, run_sets, extra_x, extra_y):
    xs, ys = [], []
    for spans, runs in zip(span_sets, run_sets):
        for (a, b), vals in zip(spans, runs):
            xs.extend(np.linspace(a, b, len(vals)))
            ys.extend(vals)
    xs.extend(extra_x)
    ys.extend(extra_y)
    return np.array(xs), np.array(ys)


bx, by = collect([black_spans, black_spans_b, black_spans_c],
                 [black_runs, black_runs_b, black_runs_c],
                 black_extra_year, black_extra_value)
cx, cy = collect([cyan_spans, cyan_spans_b, cyan_spans_c],
                 [cyan_runs, cyan_runs_b, cyan_runs_c],
                 cyan_extra_year, cyan_extra_value)

fig = plt.figure(figsize=(11.81, 7.09), dpi=100)
ax = fig.add_axes([47 / 1181, 41 / 709, 1103 / 1181, 652 / 709])

ax.scatter(bx, by, s=16, facecolors='none', edgecolors='black', linewidths=1.4, zorder=3)
ax.scatter(cx, cy, s=31, color='#00FFFF', edgecolors='none', zorder=4)

ax.set_xlim(1996, 2009)
ax.set_ylim(20, 60)
ax.set_xticks(x_ticks)
ax.set_yticks(y_ticks)
ax.yaxis.set_minor_locator(MultipleLocator(1))
ax.grid(True, which='major', color='#222222', linewidth=1.0, zorder=1)
ax.set_axisbelow(True)
ax.tick_params(axis='both', which='major', labelsize=13, length=6, width=1, color='black',
               direction='out', pad=4)
ax.tick_params(axis='x', pad=6)
ax.tick_params(axis='y', which='minor', length=4, width=1)
for side in ['top', 'right', 'bottom']:
    ax.spines[side].set_linewidth(1.0)
    ax.spines[side].set_color('black')
ax.spines['left'].set_linewidth(2.0)

fig.savefig('out.png', dpi=100)
